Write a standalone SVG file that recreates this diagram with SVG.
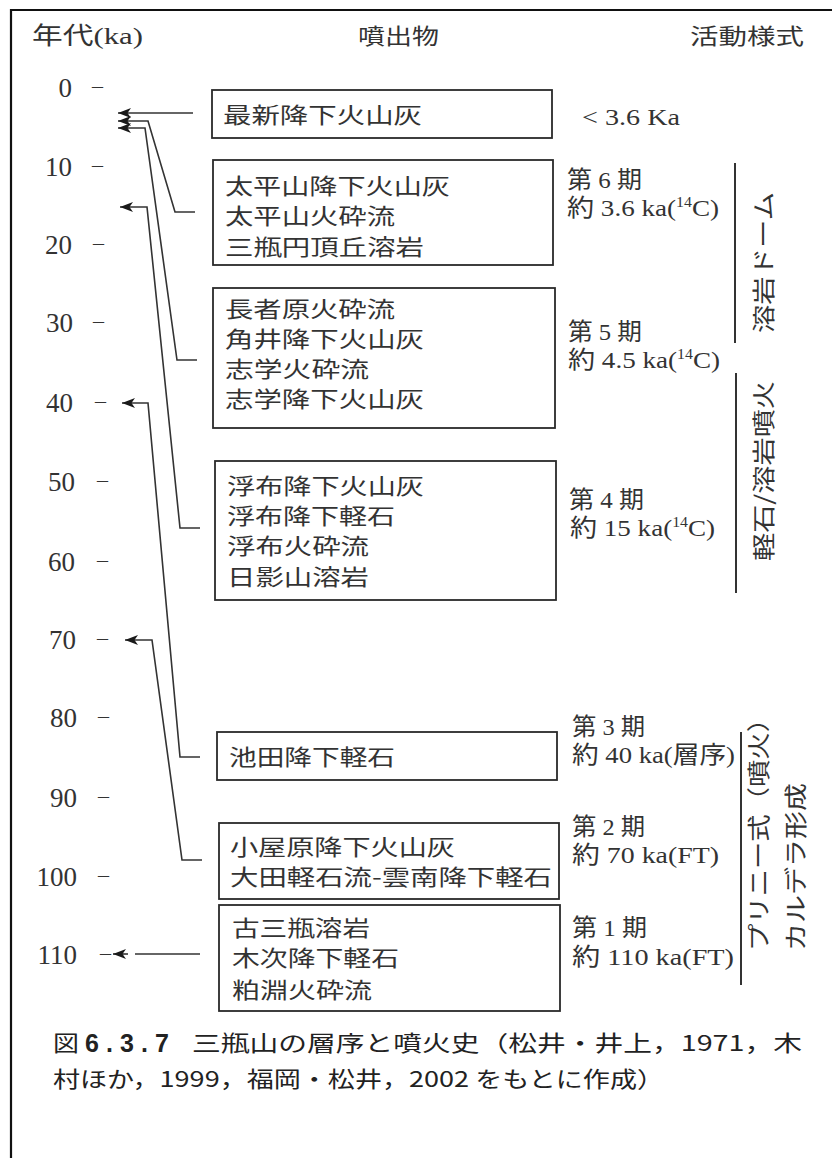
<svg xmlns="http://www.w3.org/2000/svg" width="832" height="1158" viewBox="0 0 832 1158">
<style>
.frame{fill:none;stroke:#111;stroke-width:2.2}
.box{fill:none;stroke:#2a2a2a;stroke-width:1.8}
.jp{font-family:"Noto Sans CJK JP","Noto Sans CJK SC",sans-serif;font-size:22px;fill:#333}
.sf{font-family:"Liberation Serif","Noto Sans CJK JP",serif;font-size:24px;fill:#333}
.num{font-family:"Liberation Serif",serif;font-size:27px;fill:#333;text-anchor:end}
.dash{font-family:"Liberation Serif",serif;font-size:22px;fill:#333}
.vt{font-family:"Noto Sans CJK JP","Noto Sans CJK SC",sans-serif;font-size:23px;fill:#333;dominant-baseline:central}
.cap{font-family:"Noto Sans CJK JP","Noto Sans CJK SC",sans-serif;font-size:22px;fill:#222}
.capb{font-family:"Liberation Sans",Arial,sans-serif;font-size:25px;font-weight:bold;fill:#222}
.conn{fill:none;stroke:#333;stroke-width:1.6}
.vline{stroke:#333;stroke-width:2}
</style>
<defs>
<marker id="ah" markerWidth="14" markerHeight="11" refX="13" refY="5.5" orient="auto" markerUnits="userSpaceOnUse">
<path d="M0,0.5 L13,5.5 L0,10.5 L3.5,5.5 z" fill="#1a1a1a"/>
</marker>
</defs>
<rect x="0" y="0" width="832" height="1158" fill="#fff"/>
<g id="frame">
<path class="frame" d="M11,1158 V10 H832"/>
</g>
<g id="header">
<text class="sf" x="32" y="44" textLength="111" lengthAdjust="spacingAndGlyphs">年代(ka)</text>
<text class="jp" x="358" y="44" textLength="81" lengthAdjust="spacingAndGlyphs">噴出物</text>
<text class="jp" x="690" y="44" textLength="114" lengthAdjust="spacingAndGlyphs">活動様式</text>
</g>
<g id="axis">
<text class="num" x="72" y="97">0</text><text class="dash" x="92" y="93">–</text>
<text class="num" x="72" y="176">10</text><text class="dash" x="92" y="172">–</text>
<text class="num" x="72" y="254">20</text><text class="dash" x="93" y="250">–</text>
<text class="num" x="73" y="332">30</text><text class="dash" x="93" y="328">–</text>
<text class="num" x="73" y="412">40</text><text class="dash" x="95" y="408">–</text>
<text class="num" x="75" y="491">50</text><text class="dash" x="97" y="487">–</text>
<text class="num" x="75" y="571">60</text><text class="dash" x="97" y="567">–</text>
<text class="num" x="76" y="649">70</text><text class="dash" x="97" y="645">–</text>
<text class="num" x="77" y="727">80</text><text class="dash" x="98" y="723">–</text>
<text class="num" x="77" y="807">90</text><text class="dash" x="98" y="803">–</text>
<text class="num" x="77" y="886">100</text><text class="dash" x="98" y="882">–</text>
<text class="num" x="77" y="964">110</text><text class="dash" x="100" y="960">–</text>
</g>
<g id="connectors">
<path class="conn" marker-end="url(#ah)" d="M193,113 H118"/>
<path class="conn" marker-end="url(#ah)" d="M195,212 H175 L148,121 H118"/>
<path class="conn" marker-end="url(#ah)" d="M197,360 H177 L145,128 H118"/>
<path class="conn" marker-end="url(#ah)" d="M200,528 H180 L147,207 H120"/>
<path class="conn" marker-end="url(#ah)" d="M200,757 H180 L148,403 H122"/>
<path class="conn" marker-end="url(#ah)" d="M202,860 H182 L152,640 H125"/>
<path class="conn" d="M200,954 H135"/>
<path class="conn" marker-end="url(#ah)" d="M128,954 H113"/>
</g>
<g id="box1">
<rect class="box" x="212" y="90" width="340" height="48"/>
<text class="jp" x="223" y="123" textLength="199" lengthAdjust="spacingAndGlyphs">最新降下火山灰</text>
</g>
<g id="box2">
<rect class="box" x="213" y="160" width="340" height="105"/>
<text class="jp" x="225" y="194" textLength="225" lengthAdjust="spacingAndGlyphs">太平山降下火山灰</text>
<text class="jp" x="225" y="224" textLength="170" lengthAdjust="spacingAndGlyphs">太平山火砕流</text>
<text class="jp" x="225" y="255" textLength="199" lengthAdjust="spacingAndGlyphs">三瓶円頂丘溶岩</text>
</g>
<g id="box3">
<rect class="box" x="213" y="288" width="342" height="140"/>
<text class="jp" x="225" y="317" textLength="170" lengthAdjust="spacingAndGlyphs">長者原火砕流</text>
<text class="jp" x="225" y="347" textLength="199" lengthAdjust="spacingAndGlyphs">角井降下火山灰</text>
<text class="jp" x="225" y="377" textLength="144" lengthAdjust="spacingAndGlyphs">志学火砕流</text>
<text class="jp" x="225" y="407" textLength="199" lengthAdjust="spacingAndGlyphs">志学降下火山灰</text>
</g>
<g id="box4">
<rect class="box" x="215" y="461" width="341" height="139"/>
<text class="jp" x="227" y="494" textLength="197" lengthAdjust="spacingAndGlyphs">浮布降下火山灰</text>
<text class="jp" x="227" y="524" textLength="168" lengthAdjust="spacingAndGlyphs">浮布降下軽石</text>
<text class="jp" x="227" y="554" textLength="142" lengthAdjust="spacingAndGlyphs">浮布火砕流</text>
<text class="jp" x="227" y="585" textLength="142" lengthAdjust="spacingAndGlyphs">日影山溶岩</text>
</g>
<g id="box5">
<rect class="box" x="217" y="732" width="340" height="48"/>
<text class="jp" x="229" y="765" textLength="166" lengthAdjust="spacingAndGlyphs">池田降下軽石</text>
</g>
<g id="box6">
<rect class="box" x="219" y="823" width="340" height="76"/>
<text class="jp" x="230" y="855" textLength="225" lengthAdjust="spacingAndGlyphs">小屋原降下火山灰</text>
<text class="jp" x="230" y="885" textLength="322" lengthAdjust="spacingAndGlyphs">大田軽石流-雲南降下軽石</text>
</g>
<g id="box7">
<rect class="box" x="219" y="905" width="341" height="106"/>
<text class="jp" x="232" y="936" textLength="138" lengthAdjust="spacingAndGlyphs">古三瓶溶岩</text>
<text class="jp" x="232" y="966" textLength="167" lengthAdjust="spacingAndGlyphs">木次降下軽石</text>
<text class="jp" x="232" y="998" textLength="140" lengthAdjust="spacingAndGlyphs">粕淵火砕流</text>
</g>
<g id="periods">
<text class="sf" x="582" y="125" textLength="98" lengthAdjust="spacingAndGlyphs">&lt; 3.6 Ka</text>
<text class="sf" x="567" y="188" textLength="75" lengthAdjust="spacingAndGlyphs">第 6 期</text>
<text class="sf" x="567" y="216" textLength="152" lengthAdjust="spacingAndGlyphs">約 3.6 ka(<tspan font-size="14" dy="-9">14</tspan><tspan dy="9">C)</tspan></text>
<text class="sf" x="568" y="340" textLength="74" lengthAdjust="spacingAndGlyphs">第 5 期</text>
<text class="sf" x="568" y="368" textLength="152" lengthAdjust="spacingAndGlyphs">約 4.5 ka(<tspan font-size="14" dy="-9">14</tspan><tspan dy="9">C)</tspan></text>
<text class="sf" x="569" y="508" textLength="75" lengthAdjust="spacingAndGlyphs">第 4 期</text>
<text class="sf" x="570" y="536" textLength="145" lengthAdjust="spacingAndGlyphs">約 15 ka(<tspan font-size="14" dy="-9">14</tspan><tspan dy="9">C)</tspan></text>
<text class="sf" x="572" y="735" textLength="73" lengthAdjust="spacingAndGlyphs">第 3 期</text>
<text class="sf" x="572" y="763" textLength="163" lengthAdjust="spacingAndGlyphs">約 40 ka(層序)</text>
<text class="sf" x="572" y="835" textLength="73" lengthAdjust="spacingAndGlyphs">第 2 期</text>
<text class="sf" x="572" y="863" textLength="147" lengthAdjust="spacingAndGlyphs">約 70 ka(FT)</text>
<text class="sf" x="572" y="936" textLength="75" lengthAdjust="spacingAndGlyphs">第 1 期</text>
<text class="sf" x="572" y="965" textLength="162" lengthAdjust="spacingAndGlyphs">約 110 ka(FT)</text>
</g>
<g id="activity">
<line class="vline" x1="735" y1="163" x2="735" y2="343"/>
<line class="vline" x1="736" y1="373" x2="736" y2="593"/>
<line class="vline" x1="741" y1="732" x2="741" y2="985"/>
<text class="vt" transform="translate(762,333) rotate(-90)" textLength="141" lengthAdjust="spacingAndGlyphs">溶岩ドーム</text>
<text class="vt" transform="translate(762,561) rotate(-90)" textLength="180" lengthAdjust="spacingAndGlyphs">軽石/溶岩噴火</text>
<text class="vt" transform="translate(757,951) rotate(-90)" textLength="246" lengthAdjust="spacingAndGlyphs">プリニー式（噴火）</text>
<text class="vt" transform="translate(794,951) rotate(-90)" textLength="168" lengthAdjust="spacingAndGlyphs">カルデラ形成</text>
</g>
<g id="caption">
<text class="cap" x="53" y="1051" textLength="26" lengthAdjust="spacingAndGlyphs">図</text>
<text class="capb" x="85" y="1052" textLength="84" lengthAdjust="spacing">6.3.7</text>
<text class="cap" x="192" y="1051" textLength="610" lengthAdjust="spacingAndGlyphs">三瓶山の層序と噴火史（松井・井上，1971，木</text>
<text class="cap" x="53" y="1087" textLength="611" lengthAdjust="spacingAndGlyphs">村ほか，1999，福岡・松井，2002 をもとに作成）</text>
</g>
</svg>
